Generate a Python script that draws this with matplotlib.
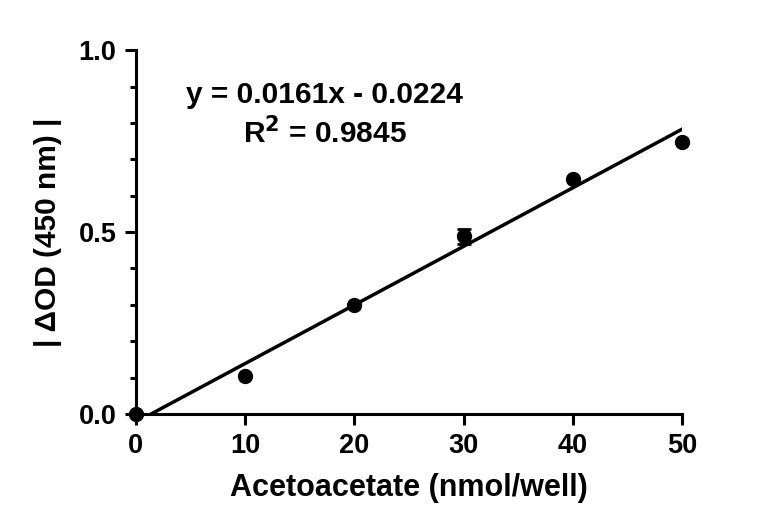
import numpy as np
import matplotlib.pyplot as plt
from matplotlib.ticker import MultipleLocator

plt.rcParams['font.family'] = ['Liberation Sans', 'DejaVu Sans']
plt.rcParams['font.weight'] = 'bold'

# dados
concentracao = [0, 10, 20, 30, 40, 50]
delta_od = [0.0, 0.104, 0.300, 0.488, 0.645, 0.748]
erro = [0.0, 0.0, 0.0, 0.02, 0.0, 0.0]

inclinacao = 0.0161
intercepto = -0.0224

fig = plt.figure(figsize=(7.68, 5.28), dpi=100)
ax = fig.add_axes([0.177, 0.216, 0.711, 0.689])

# reta de regressao
x_reta = np.array([0, 50])
ax.plot(x_reta, inclinacao * x_reta + intercepto, color='black', lw=2.5)

# pontos com barra de erro
ax.errorbar(concentracao, delta_od, yerr=erro, fmt='o', color='black',
            markersize=10, capsize=5, elinewidth=2, capthick=2, clip_on=False, zorder=3)

ax.set_xlim(0, 50)
ax.set_ylim(0, 1.0)
ax.xaxis.set_major_locator(MultipleLocator(10))
ax.yaxis.set_major_locator(MultipleLocator(0.5))
ax.yaxis.set_minor_locator(MultipleLocator(0.1))
ax.yaxis.set_major_formatter(plt.FormatStrFormatter('%.1f'))

for lado in ['top', 'right']:
    ax.spines[lado].set_visible(False)
for lado in ['left', 'bottom']:
    ax.spines[lado].set_linewidth(2.2)

ax.tick_params(which='major', length=8, width=2.2, labelsize=19.5, pad=6)
ax.tick_params(which='minor', length=4.5, width=2.2)

ax.set_xlabel('Acetoacetate (nmol/well)', fontsize=22, fontweight='bold', labelpad=10)
ax.set_ylabel('| ΔOD (450 nm) |', fontsize=21.5, fontweight='bold', labelpad=12)

# equacao da reta
ax.text(0.346, 0.876, 'y = 0.0161x - 0.0224', transform=ax.transAxes, fontsize=21.5,
        fontweight='bold', ha='center', va='center')
ax.text(0.346, 0.772, r'R$^\mathbf{2}$ = 0.9845', transform=ax.transAxes, fontsize=21.5,
        fontweight='bold', ha='center', va='center')

plt.savefig('out.png', dpi=100)
plt.close()
